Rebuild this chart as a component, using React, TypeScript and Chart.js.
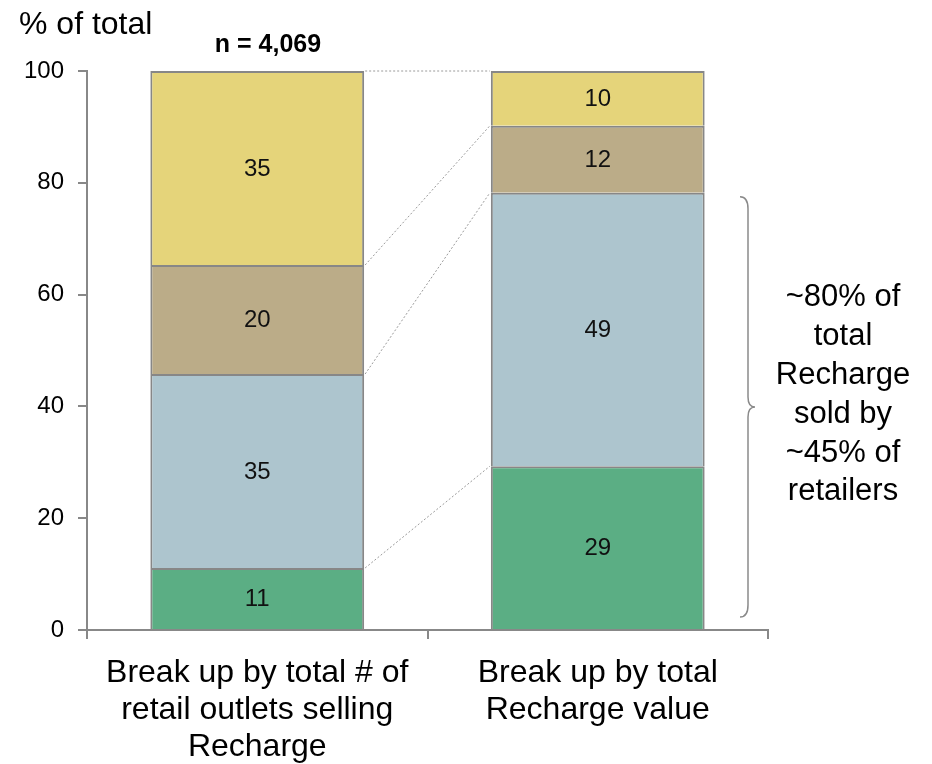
import React, { useEffect, useRef } from "react";
import { Chart, registerables } from "chart.js";

Chart.register(...registerables);

const categories: string[][] = [
  ["Break up by total # of", "retail outlets selling", "Recharge"],
  ["Break up by total", "Recharge value"],
];
const seriesNames = ["Green", "Blue", "Tan", "Yellow"];
const greenValues = [11.1, 29.3];
const blueValues = [34.7, 48.9];
const tanValues = [19.5, 12.0];
const yellowValues = [34.7, 9.8];
const seriesColors = ["#5BAE84", "#ADC5CE", "#BBAC88", "#E5D47A"];
const yTicks = [0, 20, 40, 60, 80, 100];
const yAxisTitle = "% of total";
const sampleNote = "n = 4,069";
const braceTopValue = 78.2;
const braceBottomValue = 0;
const braceNote = ["~80% of", "total", "Recharge", "sold by", "~45% of", "retailers"];

const FONT = "'Liberation Sans', Arial, Helvetica, sans-serif";

const overlayPlugin = {
  id: "overlay",
  afterDatasetsDraw(chart: any) {
    const ctx = chart.ctx;
    const y = chart.scales.y;
    const metas = [0, 1, 2, 3].map((i) => chart.getDatasetMeta(i));

    // dotted connectors between bars at the top of each stacked segment
    ctx.save();
    ctx.strokeStyle = "#9a9a9a";
    ctx.lineWidth = 1;
    ctx.setLineDash([2, 2]);
    metas.forEach((meta: any) => {
      const a = meta.data[0];
      const b = meta.data[1];
      ctx.beginPath();
      ctx.moveTo(a.x + a.width / 2 + 1, a.y);
      ctx.lineTo(b.x - b.width / 2 - 1, b.y);
      ctx.stroke();
    });
    ctx.restore();

    // data labels
    ctx.save();
    ctx.fillStyle = "#111";
    ctx.font = `24px ${FONT}`;
    ctx.textAlign = "center";
    ctx.textBaseline = "middle";
    metas.forEach((meta: any, di: number) => {
      const ds = chart.data.datasets[di];
      meta.data.forEach((el: any, j: number) => {
        const cy = (el.y + el.base) / 2;
        ctx.fillText(String(Math.round(ds.data[j])), el.x, cy + 1);
      });
    });
    ctx.restore();

    // y axis title & sample note
    ctx.save();
    ctx.fillStyle = "#000";
    ctx.font = `32px ${FONT}`;
    ctx.textAlign = "left";
    ctx.textBaseline = "middle";
    ctx.fillText(yAxisTitle, 19, 25);
    ctx.font = `bold 25px ${FONT}`;
    ctx.textAlign = "center";
    ctx.fillText(sampleNote, 268, 45);
    ctx.restore();

    // brace
    const top = y.getPixelForValue(braceTopValue) + 4;
    const bottom = y.getPixelForValue(braceBottomValue) - 13;
    const mid = (top + bottom) / 2;
    const x0 = chart.chartArea.right - 28;
    const x1 = x0 + 8;
    const x2 = x0 + 15;
    ctx.save();
    ctx.strokeStyle = "#8a8a8a";
    ctx.lineWidth = 1.5;
    ctx.beginPath();
    ctx.moveTo(x0, top);
    ctx.quadraticCurveTo(x1, top, x1, top + 12);
    ctx.lineTo(x1, mid - 10);
    ctx.quadraticCurveTo(x1, mid, x2, mid);
    ctx.quadraticCurveTo(x1, mid, x1, mid + 10);
    ctx.lineTo(x1, bottom - 12);
    ctx.quadraticCurveTo(x1, bottom, x0, bottom);
    ctx.stroke();
    ctx.restore();

    // brace note
    ctx.save();
    ctx.fillStyle = "#000";
    ctx.font = `31px ${FONT}`;
    ctx.textAlign = "center";
    ctx.textBaseline = "middle";
    const lh = 38.8;
    const startY = mid - 12 - (lh * (braceNote.length - 1)) / 2;
    braceNote.forEach((line, i) => {
      ctx.fillText(line, 843, startY + i * lh);
    });
    ctx.restore();
  },
};

export default function App() {
  const ref = useRef<HTMLCanvasElement | null>(null);
  useEffect(() => {
    if (!ref.current) return;
    const values = [greenValues, blueValues, tanValues, yellowValues];
    const chart = new Chart(ref.current, {
      type: "bar",
      data: {
        labels: categories as any,
        datasets: values.map((v, i) => ({
          label: seriesNames[i],
          data: v,
          backgroundColor: seriesColors[i],
          borderColor: "#878787",
          borderWidth: 2,
          borderSkipped: "start" as any,
          categoryPercentage: 1,
          barPercentage: 0.628,
        })),
      },
      options: {
        responsive: false,
        animation: false,
        devicePixelRatio: 1,
        layout: { padding: { top: 71, right: 164, left: 0, bottom: 0 } },
        plugins: {
          legend: { display: false },
          tooltip: { enabled: false },
          title: { display: false },
        },
        scales: {
          x: {
            stacked: true,
            offset: true,
            afterFit: (s: any) => {
              s.height = 134;
            },
            grid: {
              offset: true,
              drawOnChartArea: false,
              drawTicks: true,
              tickLength: 9,
              color: "#888",
              lineWidth: 2,
            },
            border: { display: true, color: "#888", width: 2 },
            ticks: {
              color: "#000",
              padding: 15,
              maxRotation: 0,
              autoSkip: false,
              font: { family: FONT, size: 32, lineHeight: 1.17 },
            },
          },
          y: {
            stacked: true,
            min: 0,
            max: 100,
            afterFit: (s: any) => {
              s.width = 87;
            },
            afterBuildTicks: (s: any) => {
              s.ticks = yTicks.map((v) => ({ value: v }));
            },
            grid: {
              drawOnChartArea: false,
              drawTicks: true,
              tickLength: 9,
              color: "#888",
              lineWidth: 2,
            },
            border: { display: true, color: "#888", width: 2 },
            ticks: {
              color: "#000",
              padding: 14,
              font: { family: FONT, size: 24 },
            },
          },
        },
      },
      plugins: [overlayPlugin],
    });
    return () => chart.destroy();
  }, []);
  return (
    <div style={{ position: "absolute", left: 0, top: 0, width: 932, height: 764, background: "#fff" }}>
      <canvas ref={ref} width={932} height={764} style={{ width: 932, height: 764 }} />
    </div>
  );
}
